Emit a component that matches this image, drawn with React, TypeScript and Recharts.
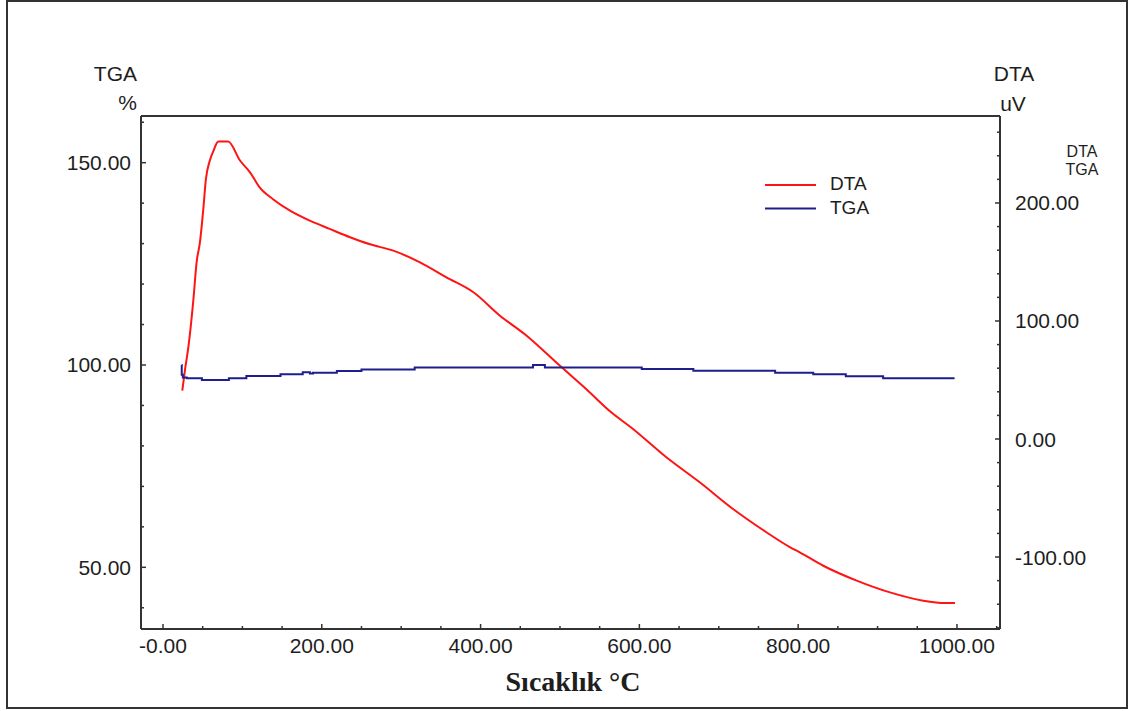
import React from 'react';
import { LineChart, Line, XAxis, YAxis, Legend, ReferenceLine } from 'recharts';

// ---- Data ----
const dtaTemp = [24.3, 28, 32, 38, 42.4, 46.6, 50.8, 54, 59, 63.4, 69.7, 82, 97, 109.6, 122, 139, 160, 185, 210, 235.5, 260.7, 290, 323.7, 357, 391, 424.4, 458, 500, 533.6, 563, 592, 634, 676, 718, 760, 790, 802, 831.6, 873.7, 915.6, 957.6, 985, 997.5];
const dtaValue = [41, 60, 78, 116, 150, 167, 195, 220, 236, 244, 252, 252, 236, 226, 213, 203, 193.5, 185, 178, 171, 165, 159.6, 149.7, 137, 124.3, 104.5, 87.5, 62, 42, 23.5, 8.5, -15.5, -36.7, -59.3, -79, -91.8, -96, -107.4, -120, -130, -137, -139, -139];

const tgaTemp = [23.5, 23.6, 25, 30, 49, 83, 105, 148, 176, 185, 189, 219, 250, 257, 317, 466, 481, 603, 668, 771, 819, 860, 907, 997];
const tgaValue = [100.0, 97.6, 96.9, 96.7, 96.3, 96.7, 97.3, 97.7, 98.2, 97.9, 98.1, 98.5, 98.9, 98.9, 99.4, 100.0, 99.4, 99.0, 98.6, 98.1, 97.7, 97.2, 96.7, 96.7];

const xTicks = [0, 50, 100, 150, 200, 250, 300, 350, 400, 450, 500, 550, 600, 650, 700, 750, 800, 850, 900, 950, 1000, 1050];
const xMajor = [0, 200, 400, 600, 800, 1000];
const xMajorLabels = ['-0.00', '200.00', '400.00', '600.00', '800.00', '1000.00'];

const leftTicks = [40, 50, 60, 70, 80, 90, 100, 110, 120, 130, 140, 150, 160];
const leftMajor = [50, 100, 150];
const leftMajorLabels = ['50.00', '100.00', '150.00'];

const rightTicks = [-160, -140, -120, -100, -80, -60, -40, -20, 0, 20, 40, 60, 80, 100, 120, 140, 160, 180, 200, 220, 240, 260];
const rightMajor = [-100, 0, 100, 200];
const rightMajorLabels = ['-100.00', '0.00', '100.00', '200.00'];

const xDomain = [-27.7, 1054.2];
const leftDomain = [34.75, 161.54];
const rightDomain = [-161, 273.7];

const dtaData = dtaTemp.map((t, i) => ({ t, v: dtaValue[i] }));
const tgaData = tgaTemp.map((t, i) => ({ t, v: tgaValue[i] }));

const FONT = '"Liberation Sans", Arial, Helvetica, sans-serif';
const TXT = '#1e1e1e';
const AX = '#333333';

const XTick = (props: any) => {
  const { x, y, payload } = props;
  const v = payload.value;
  const idx = xMajor.indexOf(v);
  const major = idx >= 0;
  return (
    <g>
      <line x1={x} x2={x} y1={y} y2={y - (major ? 5 : 3)} stroke={AX} strokeWidth={1.5} />
      {major && (
        <text x={x} y={y + 24} textAnchor="middle" fontSize={21} fontFamily={FONT} fill={TXT}>
          {xMajorLabels[idx]}
        </text>
      )}
    </g>
  );
};

const LeftTick = (props: any) => {
  const { x, y, payload } = props;
  const v = payload.value;
  const idx = leftMajor.indexOf(v);
  const major = idx >= 0;
  return (
    <g>
      <line x1={x} x2={x + (major ? 5 : 3)} y1={y} y2={y} stroke={AX} strokeWidth={1.5} />
      {major && (
        <text x={x - 10} y={y + 7.5} textAnchor="end" fontSize={21} fontFamily={FONT} fill={TXT}>
          {leftMajorLabels[idx]}
        </text>
      )}
    </g>
  );
};

const RightTick = (props: any) => {
  const { x, y, payload } = props;
  const v = payload.value;
  const idx = rightMajor.indexOf(v);
  const major = idx >= 0;
  return (
    <g>
      <line x1={x} x2={x - (major ? 5 : 3)} y1={y} y2={y} stroke={AX} strokeWidth={1.5} />
      {major && (
        <text x={x + 15} y={y + 7.5} textAnchor="start" fontSize={21} fontFamily={FONT} fill={TXT}>
          {rightMajorLabels[idx]}
        </text>
      )}
    </g>
  );
};

const renderLegend = (props: any) => {
  const { payload } = props;
  return (
    <svg width={140} height={50} style={{ display: 'block' }}>
      {(payload || []).map((p: any, i: number) => (
        <g key={i}>
          <line x1={5} x2={56} y1={15 + i * 23.5} y2={15 + i * 23.5} stroke={p.color} strokeWidth={2} />
          <text x={70} y={20 + i * 23.5} fontSize={19} fontFamily={FONT} fill={TXT}>
            {p.value}
          </text>
        </g>
      ))}
    </svg>
  );
};

export default function App() {
  return (
    <div style={{ position: 'absolute', left: 0, top: 0, width: 1137, height: 711, background: '#fff' }}>
      <LineChart width={1137} height={711} margin={{ top: 116, right: 0, bottom: 0, left: 0 }}>
        <XAxis
          xAxisId="main"
          type="number"
          dataKey="t"
          domain={xDomain}
          allowDataOverflow
          ticks={xTicks}
          interval={0}
          height={82}
          tickSize={0}
          tickMargin={0}
          tickLine={false}
          axisLine={{ stroke: AX, strokeWidth: 2 }}
          tick={(p: any) => <XTick {...p} />}
        />
        <YAxis
          yAxisId="left"
          orientation="left"
          type="number"
          domain={leftDomain}
          allowDataOverflow
          ticks={leftTicks}
          interval={0}
          width={141}
          tickSize={0}
          tickMargin={0}
          tickLine={false}
          axisLine={{ stroke: AX, strokeWidth: 2 }}
          tick={(p: any) => <LeftTick {...p} />}
        />
        <YAxis
          yAxisId="right"
          orientation="right"
          type="number"
          domain={rightDomain}
          allowDataOverflow
          ticks={rightTicks}
          interval={0}
          width={137}
          tickSize={0}
          tickMargin={0}
          tickLine={false}
          axisLine={{ stroke: AX, strokeWidth: 2 }}
          tick={(p: any) => <RightTick {...p} />}
        />
        <ReferenceLine
          xAxisId="main"
          yAxisId="left"
          y={leftDomain[1]}
          stroke={AX}
          strokeWidth={2}
          ifOverflow="visible"
        />
        <Legend
          layout="vertical"
          align="center"
          verticalAlign="middle"
          content={renderLegend}
          wrapperStyle={{ position: 'absolute', left: 760, top: 170, width: 140, height: 50 }}
        />
        <Line
          name="DTA"
          data={dtaData}
          xAxisId="main"
          yAxisId="right"
          dataKey="v"
          type="monotone"
          stroke="#ff1414"
          strokeWidth={2}
          dot={false}
          activeDot={false}
          isAnimationActive={false}
        />
        <Line
          name="TGA"
          data={tgaData}
          xAxisId="main"
          yAxisId="left"
          dataKey="v"
          type="stepAfter"
          stroke="#1e1e8c"
          strokeWidth={2}
          dot={false}
          activeDot={false}
          isAnimationActive={false}
        />
      </LineChart>
      <svg
        width={1137}
        height={711}
        style={{ position: 'absolute', left: 0, top: 0, pointerEvents: 'none' }}
      >
        <rect x={7} y={1} width={1120} height={707} fill="none" stroke={AX} strokeWidth={2} />
        <text x={137} y={81} textAnchor="end" fontSize={21} fontFamily={FONT} fill={TXT}>TGA</text>
        <text x={137} y={110} textAnchor="end" fontSize={21} fontFamily={FONT} fill={TXT}>%</text>
        <text x={1014} y={81} textAnchor="middle" fontSize={21} fontFamily={FONT} fill={TXT}>DTA</text>
        <text x={1013} y={111} textAnchor="middle" fontSize={21} fontFamily={FONT} fill={TXT}>uV</text>
        <text x={1082} y={157} textAnchor="middle" fontSize={16} fontFamily={FONT} fill={TXT}>DTA</text>
        <text x={1082} y={175} textAnchor="middle" fontSize={16} fontFamily={FONT} fill={TXT}>TGA</text>
        <text
          x={573}
          y={691}
          textAnchor="middle"
          fontSize={28}
          fontWeight="bold"
          fontFamily='"Liberation Serif", "Times New Roman", serif'
          fill={TXT}
        >
          Sıcaklık °C
        </text>
      </svg>
    </div>
  );
}
